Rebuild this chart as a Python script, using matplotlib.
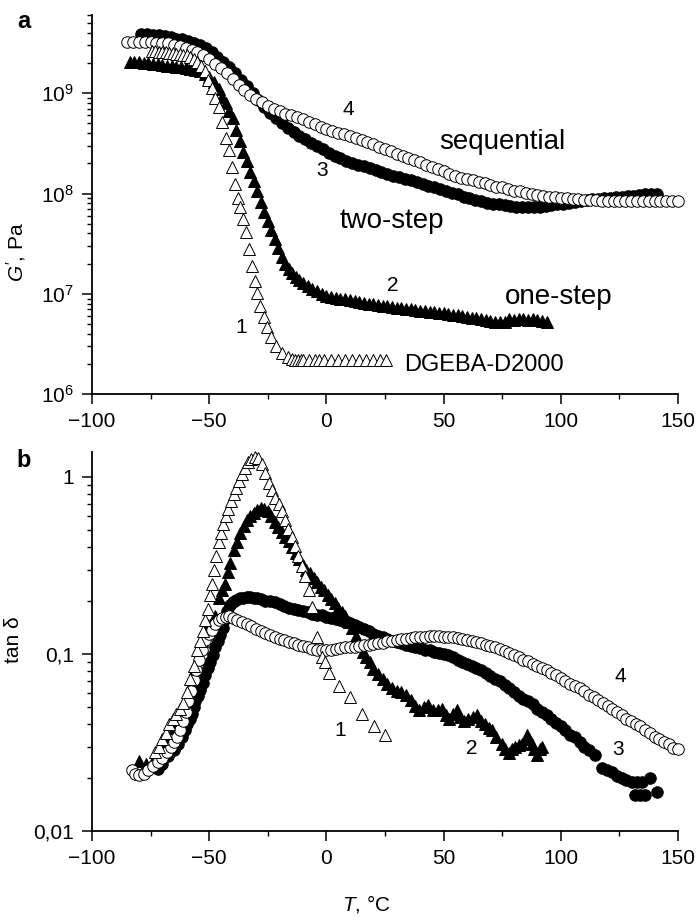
import matplotlib
matplotlib.use('Agg')
import matplotlib.pyplot as plt
from matplotlib.ticker import MultipleLocator, FixedLocator, FixedFormatter, LogLocator, NullFormatter

plt.rcParams['font.family'] = ['Liberation Sans', 'DejaVu Sans']
plt.rcParams['mathtext.fontset'] = 'custom'
plt.rcParams['mathtext.rm'] = 'Liberation Sans'
plt.rcParams['mathtext.it'] = 'Liberation Sans:italic'

# ---------------- (a) G', Pa ----------------
# 1: DGEBA-D2000 (open triangles)
T1_g = [-74.5, -73, -71.5, -70, -68.5, -67, -65.5, -64, -62.5, -61, -59.5, -58, -56.5, -55,
        -53.5, -52, -50.5, -49, -47.5, -46, -44.5, -43, -41.7, -40.3, -38.9, -37.8, -36.8,
        -35.4, -34.5, -33.2, -31.8, -30.5, -29.5, -28.2, -26.8, -25.4, -23.5, -21.3, -18.8,
        -16.5, -14.5, -13.2, -12, -11, -10, -7.5, -5, -3, -1, 2, 5, 8, 11, 14, 17, 20, 23, 25.5]
G1 = [2.6e9, 2.6e9, 2.58e9, 2.56e9, 2.54e9, 2.52e9, 2.5e9, 2.48e9, 2.45e9, 2.42e9, 2.38e9,
      2.3e9, 2.2e9, 2.05e9, 1.87e9, 1.65e9, 1.35e9, 1.13e9, 9.0e8, 7.3e8, 5.2e8, 3.6e8, 2.7e8,
      1.85e8, 1.25e8, 9.0e7, 7.3e7, 5.6e7, 4.1e7, 2.8e7, 1.9e7, 1.35e7, 1.02e7, 7.6e6, 5.9e6,
      4.7e6, 3.7e6, 3.05e6, 2.6e6, 2.35e6, 2.25e6, 2.22e6, 2.2e6, 2.2e6, 2.2e6, 2.2e6, 2.2e6,
      2.22e6, 2.2e6, 2.2e6, 2.22e6, 2.2e6, 2.2e6, 2.22e6, 2.22e6, 2.22e6, 2.22e6, 2.22e6]

# 2: one-step (filled triangles)
T2_g = [-84, -82, -80, -78, -76, -74, -72, -70, -68, -66, -64, -62, -60, -58, -56, -54, -52,
        -50, -48, -46, -44.5, -43, -41.5, -40, -38.5, -37, -35.5, -34, -32.5, -31, -29.5, -28,
        -26.5, -25, -23.5, -22, -20.5, -19, -17.5, -16, -14.5, -13, -11.5, -10, -8, -6, -4, -2,
        0, 2, 4, 6, 8, 10, 12, 14, 16, 18, 20, 22, 24, 26, 28, 30, 32, 34, 36, 38, 40, 42, 44,
        46, 48, 50, 52, 54, 56, 58, 60, 62, 64, 66, 68, 70, 72, 74, 76, 78, 80, 82, 84, 86, 88,
        90, 92, 94]
G2 = [2.05e9, 2.05e9, 2.03e9, 2.0e9, 1.98e9, 1.95e9, 1.93e9, 1.9e9, 1.88e9, 1.86e9, 1.83e9,
      1.8e9, 1.77e9, 1.74e9, 1.7e9, 1.65e9, 1.55e9, 1.45e9, 1.28e9, 1.1e9, 9.2e8, 7.9e8, 6.6e8,
      5.6e8, 4.3e8, 3.3e8, 2.6e8, 2.1e8, 1.65e8, 1.33e8, 1.05e8, 8.2e7, 6.6e7, 5.3e7, 4.3e7,
      3.5e7, 2.85e7, 2.35e7, 2.0e7, 1.78e7, 1.6e7, 1.47e7, 1.37e7, 1.27e7, 1.19e7, 1.12e7,
      1.06e7, 1.0e7, 9.6e6, 9.3e6, 9.1e6, 8.9e6, 8.8e6, 8.7e6, 8.5e6, 8.3e6, 8.2e6, 8.0e6,
      7.9e6, 7.7e6, 7.6e6, 7.5e6, 7.4e6, 7.3e6, 7.2e6, 7.1e6, 7.0e6, 6.9e6, 6.8e6, 6.7e6,
      6.65e6, 6.6e6, 6.5e6, 6.4e6, 6.3e6, 6.2e6, 6.1e6, 6.0e6, 5.9e6, 5.8e6, 5.7e6, 5.6e6,
      5.5e6, 5.4e6, 5.3e6, 5.2e6, 5.3e6, 5.6e6, 5.5e6, 5.6e6, 5.6e6, 5.5e6, 5.6e6, 5.5e6,
      5.4e6, 5.2e6]

# 3: two-step (filled circles)
T3_g = [-79, -76.5, -74, -71.5, -69, -66.5, -64, -61.5, -59, -56.5, -54, -51.5, -49, -46.5,
        -44, -41.5, -39, -36.5, -34, -31.5, -29, -26.5, -24, -21.5, -19, -16.5, -14, -11.5, -9,
        -6.5, -4, -1.5, 1, 3.5, 6, 8.5, 11, 13.5, 16, 18.5, 21, 23.5, 26, 28.5, 31, 33.5, 36,
        38.5, 41, 43.5, 46, 48.5, 51, 53.5, 56, 58.5, 61, 63.5, 66, 68.5, 71, 73.5, 76, 78.5,
        81, 83.5, 86, 88.5, 91, 93.5, 96, 98.5, 101, 103.5, 106, 108.5, 111, 113.5, 116, 118.5,
        121, 123.5, 126, 128.5, 131, 133.5, 136, 138.5, 141]
G3 = [3.9e9, 3.85e9, 3.8e9, 3.76e9, 3.67e9, 3.59e9, 3.5e9, 3.43e9, 3.31e9, 3.16e9, 3.02e9,
      2.82e9, 2.57e9, 2.29e9, 2.04e9, 1.8e9, 1.57e9, 1.36e9, 1.17e9, 1.0e9, 8.5e8, 7.2e8,
      6.3e8, 5.6e8, 5.0e8, 4.5e8, 4.1e8, 3.76e8, 3.47e8, 3.2e8, 2.95e8, 2.75e8, 2.54e8,
      2.37e8, 2.24e8, 2.11e8, 2.02e8, 1.93e8, 1.86e8, 1.78e8, 1.72e8, 1.64e8, 1.58e8, 1.51e8,
      1.46e8, 1.4e8, 1.35e8, 1.29e8, 1.24e8, 1.19e8, 1.15e8, 1.1e8, 1.05e8, 1.01e8, 9.8e7,
      9.3e7, 9.0e7, 8.7e7, 8.4e7, 8.1e7, 7.9e7, 7.8e7, 7.6e7, 7.5e7, 7.4e7, 7.3e7, 7.3e7,
      7.3e7, 7.4e7, 7.5e7, 7.6e7, 7.8e7, 7.9e7, 8.1e7, 8.3e7, 8.5e7, 8.7e7, 8.8e7, 8.9e7,
      9.0e7, 9.1e7, 9.2e7, 9.3e7, 9.4e7, 9.5e7, 9.7e7, 9.8e7, 9.9e7, 1.0e8]

# 4: sequential (open circles)
T4_g = [-85, -82.5, -80, -77.5, -75, -72.5, -70, -67.5, -65, -62.5, -60, -57.5, -55, -52.5,
        -50, -47.5, -45, -42.5, -40, -37.5, -35, -32.5, -30, -27.5, -25, -22.5, -20, -17.5,
        -15, -12.5, -10, -7.5, -5, -2.5, 0, 2.5, 5, 7.5, 10, 12.5, 15, 17.5, 20, 22.5, 25,
        27.5, 30, 32.5, 35, 37.5, 40, 42.5, 45, 47.5, 50, 52.5, 55, 57.5, 60, 62.5, 65, 67.5,
        70, 72.5, 75, 77.5, 80, 82.5, 85, 87.5, 90, 92.5, 95, 97.5, 100, 102.5, 105, 107.5,
        110, 112.5, 115, 117.5, 120, 122.5, 125, 127.5, 130, 132.5, 135, 137.5, 140, 142.5,
        145, 147.5, 150]
G4 = [3.24e9, 3.24e9, 3.24e9, 3.24e9, 3.2e9, 3.16e9, 3.16e9, 3.13e9, 3.05e9, 2.95e9, 2.82e9,
      2.69e9, 2.57e9, 2.4e9, 2.19e9, 1.97e9, 1.78e9, 1.58e9, 1.38e9, 1.2e9, 1.07e9, 9.5e8,
      8.8e8, 8.1e8, 7.5e8, 7.0e8, 6.6e8, 6.2e8, 6.0e8, 5.75e8, 5.5e8, 5.2e8, 4.9e8, 4.6e8,
      4.4e8, 4.2e8, 4.0e8, 3.9e8, 3.7e8, 3.55e8, 3.4e8, 3.25e8, 3.1e8, 2.9e8, 2.8e8, 2.65e8,
      2.5e8, 2.37e8, 2.26e8, 2.14e8, 2.04e8, 1.93e8, 1.84e8, 1.74e8, 1.66e8, 1.58e8, 1.51e8,
      1.44e8, 1.4e8, 1.35e8, 1.3e8, 1.26e8, 1.22e8, 1.17e8, 1.15e8, 1.11e8, 1.07e8, 1.05e8,
      1.01e8, 9.9e7, 9.7e7, 9.4e7, 9.3e7, 9.2e7, 9.1e7, 9.0e7, 8.9e7, 8.8e7, 8.7e7, 8.7e7,
      8.6e7, 8.5e7, 8.5e7, 8.5e7, 8.5e7, 8.5e7, 8.5e7, 8.5e7, 8.5e7, 8.5e7, 8.5e7, 8.5e7,
      8.5e7, 8.5e7, 8.5e7]

# ---------------- (b) tan delta ----------------
T1_t = [-73, -71.5, -70, -68.5, -67, -65.5, -64, -62.5, -61, -59.5, -58, -56.5, -55, -54,
        -52.8, -51.6, -50.5, -49.6, -48.8, -47.8, -46.9, -46, -45, -44, -43, -42, -40.8, -39.6,
        -38.4, -37.2, -36, -34.7, -33.4, -32, -30.5, -29, -27.5, -26, -24.6, -23.2, -21.8,
        -20.4, -19, -17.6, -16.2, -14.8, -13.4, -12, -10.6, -9.2, -7.6, -6.2, -3.8, -1.8, -0.5,
        0.9, 5.2, 10.2, 15.1, 20.1, 25.2]
D1 = [0.028, 0.030, 0.033, 0.036, 0.040, 0.043, 0.046, 0.049, 0.053, 0.061, 0.072, 0.085,
      0.105, 0.118, 0.135, 0.155, 0.18, 0.215, 0.25, 0.30, 0.36, 0.43, 0.48, 0.54, 0.60, 0.66,
      0.73, 0.80, 0.87, 0.95, 1.04, 1.13, 1.21, 1.27, 1.30, 1.28, 1.18, 1.05, 0.93, 0.84,
      0.76, 0.70, 0.64, 0.57, 0.51, 0.46, 0.41, 0.36, 0.315, 0.275, 0.23, 0.185, 0.125,
      0.096, 0.09, 0.078, 0.066, 0.057, 0.046, 0.039, 0.035]

T2_t = [-80, -77, -74, -71, -68, -65, -62, -59, -56, -53, -50.5, -48.8, -47.4, -46, -44.5,
        -43.1, -42, -41, -39.6, -38.2, -36.7, -35.3, -34, -32.5, -31, -29.5, -28, -26.5, -25,
        -23.5, -22, -20.5, -19, -17.5, -16, -14.5, -13, -11.5, -10, -8.5, -7, -5.5, -4, -2.5,
        -1, 0.5, 2, 3.5, 5, 6.5, 8, 9.5, 11, 12.5, 14, 15.5, 17, 18.5, 20, 22, 24, 26, 28, 30,
        32, 34, 36, 38, 39.5, 41.5, 43.5, 45.5, 47.5, 49.5, 51, 52.5, 54, 55.6, 57, 58.5, 60.5,
        62.5, 64.2, 66, 67.8, 69.2, 70.6, 72.5, 74.9, 76.3, 77.7, 79, 80.5, 82, 83.4, 85.5,
        86.5, 87.6, 88.7, 89.8, 91, 91.9]
D2 = [0.025, 0.024, 0.025, 0.028, 0.032, 0.038, 0.044, 0.058, 0.082, 0.118, 0.145, 0.152,
      0.163, 0.207, 0.23, 0.25, 0.29, 0.325, 0.387, 0.43, 0.48, 0.53, 0.57, 0.60, 0.63, 0.65,
      0.665, 0.66, 0.64, 0.60, 0.56, 0.52, 0.49, 0.46, 0.435, 0.40, 0.37, 0.345, 0.32, 0.30,
      0.285, 0.27, 0.255, 0.24, 0.23, 0.215, 0.205, 0.195, 0.183, 0.172, 0.163, 0.152, 0.14,
      0.127, 0.113, 0.103, 0.096, 0.09, 0.082, 0.077, 0.072, 0.068, 0.064, 0.062, 0.061,
      0.059, 0.055, 0.051, 0.048, 0.05, 0.0515, 0.048, 0.0485, 0.049, 0.045, 0.043, 0.046,
      0.048, 0.044, 0.042, 0.043, 0.044, 0.045, 0.042, 0.040, 0.038, 0.037, 0.034, 0.031,
      0.029, 0.0275, 0.029, 0.030, 0.0305, 0.031, 0.035, 0.033, 0.031, 0.029, 0.027, 0.029,
      0.030]

T3_t = [-72, -70, -67.5, -65.2, -63.3, -61.6, -60.5, -59.5, -58.4, -57.4, -56.6, -55.9,
        -54.8, -53.8, -52.7, -51.6, -50.5, -49.5, -48.5, -47.4, -46.3, -45.2, -44.3, -43.5,
        -42.5, -41.3, -40, -38.5, -37, -35.5, -34, -32.5, -31, -29.5, -28, -26, -24, -22, -20,
        -18, -16, -14, -12, -10, -8, -6, -4, -2, 0, 2, 4, 6, 8, 10, 12, 14, 16, 18, 20, 22, 24,
        26, 28, 30, 32, 34, 36, 38, 40, 42, 44, 46, 48, 50, 52, 54, 56, 58, 60, 62, 64, 66, 68,
        70, 72, 74, 76, 78, 80, 82, 84, 86, 88, 90, 92, 94, 96, 98, 100, 102, 104, 106, 108,
        110, 112, 114.5, 117.5, 119.5, 121.8, 124, 126, 128, 130.3, 132.5, 134.5, 138.1,
        131.7, 134, 136, 140.9]
D3 = [0.0225, 0.024, 0.0265, 0.0287, 0.031, 0.034, 0.037, 0.040, 0.043, 0.046, 0.050, 0.054,
      0.058, 0.063, 0.069, 0.076, 0.083, 0.090, 0.099, 0.110, 0.119, 0.128, 0.14, 0.155,
      0.175, 0.188, 0.196, 0.202, 0.206, 0.208, 0.21, 0.21, 0.208, 0.206, 0.204, 0.200,
      0.199, 0.196, 0.192, 0.186, 0.183, 0.180, 0.177, 0.174, 0.172, 0.169, 0.167, 0.165,
      0.162, 0.160, 0.157, 0.155, 0.152, 0.149, 0.146, 0.142, 0.138, 0.134, 0.130, 0.127,
      0.124, 0.121, 0.119, 0.117, 0.115, 0.113, 0.111, 0.110, 0.108, 0.106, 0.105, 0.103,
      0.101, 0.0995, 0.0985, 0.096, 0.093, 0.090, 0.088, 0.085, 0.083, 0.081, 0.078, 0.075,
      0.072, 0.070, 0.067, 0.064, 0.061, 0.058, 0.056, 0.054, 0.052, 0.049, 0.047, 0.045,
      0.043, 0.041, 0.039, 0.037, 0.035, 0.034, 0.032, 0.030, 0.0285, 0.027, 0.0226, 0.022,
      0.0216, 0.0205, 0.0199, 0.0195, 0.019, 0.019, 0.019, 0.0199, 0.016, 0.016, 0.016,
      0.0167]

T4_t = [-82.9, -81.5, -80, -78, -76, -74, -72, -70, -68, -66.5, -65, -63.8, -62.5, -61, -60,
        -59, -57.8, -56.6, -55.5, -54.5, -53, -51.6, -50.2, -48.8, -47.4, -46, -44.5, -43,
        -41.7, -40, -38, -36, -34, -32, -30, -28, -26, -24, -22, -20, -18, -16, -14, -12, -10,
        -8, -6, -4, -2, 0, 2, 4, 6, 8, 10, 12, 14, 16, 18, 20, 22, 24, 26, 28, 30, 32, 34, 36,
        38, 40, 42, 44, 46, 48, 50, 52, 54, 56, 58, 60, 62, 64, 66, 68, 70, 72, 74, 76, 78, 80,
        82, 84, 86, 88, 90, 92, 94, 96, 98, 100, 102, 104, 106, 108, 110, 112, 114, 116, 118,
        120, 122, 124, 126, 128, 130, 132, 134, 136, 138, 140, 142, 144, 146, 148, 150]
D4 = [0.0221, 0.021, 0.0207, 0.021, 0.022, 0.0233, 0.0245, 0.026, 0.028, 0.030, 0.032,
      0.034, 0.037, 0.042, 0.047, 0.054, 0.062, 0.071, 0.081, 0.092, 0.105, 0.12, 0.13,
      0.137, 0.147, 0.156, 0.16, 0.162, 0.163, 0.16, 0.156, 0.152, 0.148, 0.144, 0.139,
      0.135, 0.131, 0.128, 0.125, 0.122, 0.12, 0.117, 0.115, 0.113, 0.111, 0.109, 0.107,
      0.106, 0.105, 0.105, 0.106, 0.107, 0.108, 0.109, 0.110, 0.110, 0.111, 0.112, 0.113,
      0.114, 0.115, 0.116, 0.118, 0.119, 0.120, 0.121, 0.122, 0.123, 0.124, 0.125, 0.125,
      0.126, 0.126, 0.126, 0.125, 0.125, 0.124, 0.123, 0.122, 0.120, 0.119, 0.117, 0.115,
      0.113, 0.111, 0.109, 0.107, 0.104, 0.101, 0.0986, 0.096, 0.093, 0.091, 0.088, 0.086,
      0.083, 0.081, 0.078, 0.076, 0.073, 0.070, 0.068, 0.066, 0.064, 0.062, 0.059, 0.057,
      0.055, 0.053, 0.051, 0.049, 0.047, 0.045, 0.043, 0.042, 0.040, 0.039, 0.037, 0.036,
      0.034, 0.033, 0.032, 0.031, 0.0295, 0.029]

tan_ticks = [0.01, 0.1, 1]
tan_tick_labels = ['0,01', '0,1', '1']

fig = plt.figure(figsize=(6.97, 9.22), dpi=100)
ax1 = fig.add_axes([92 / 697, 1 - 394.3 / 922, 586 / 697, 379.3 / 922])
ax2 = fig.add_axes([92 / 697, 1 - 831 / 922, 586 / 697, 379 / 922])

ms_tri = 9
ms_circ = 8.3
mew = 0.7


def draw(ax, t1, y1, t2, y2, t3, y3, t4, y4):
    # filled first, open symbols on top
    ax.plot(t3, y3, 'o', ms=ms_circ, mfc='black', mec='black', mew=mew, ls='none', clip_on=False)
    ax.plot(t2, y2, '^', ms=ms_tri, mfc='black', mec='black', mew=mew, ls='none', clip_on=False)
    ax.plot(t4, y4, 'o', ms=ms_circ, mfc='white', mec='black', mew=mew, ls='none', clip_on=False)
    ax.plot(t1, y1, '^', ms=ms_tri, mfc='white', mec='black', mew=mew, ls='none', clip_on=False)


def style(ax):
    ax.set_yscale('log')
    ax.set_xlim(-100, 150)
    ax.xaxis.set_major_locator(MultipleLocator(50))
    ax.xaxis.set_minor_locator(MultipleLocator(25))
    for s in ['top', 'right']:
        ax.spines[s].set_visible(False)
    for s in ['left', 'bottom']:
        ax.spines[s].set_linewidth(1.3)
    ax.tick_params(which='major', direction='out', length=7, width=1.1, labelsize=15, pad=6)
    ax.tick_params(which='minor', direction='out', length=3.8, width=1.0)


draw(ax1, T1_g, G1, T2_g, G2, T3_g, G3, T4_g, G4)
style(ax1)
ax1.set_ylim(1e6, 6e9)
ax1.yaxis.set_major_locator(LogLocator(base=10, numticks=10))
ax1.yaxis.set_minor_locator(LogLocator(base=10, subs=range(2, 10), numticks=20))
ax1.yaxis.set_minor_formatter(NullFormatter())

draw(ax2, T1_t, D1, T2_t, D2, T3_t, D3, T4_t, D4)
style(ax2)
ax2.set_ylim(0.01, 1.384)
ax2.yaxis.set_major_locator(FixedLocator(tan_ticks))
ax2.yaxis.set_major_formatter(FixedFormatter(tan_tick_labels))
ax2.yaxis.set_minor_locator(LogLocator(base=10, subs=range(2, 10), numticks=20))
ax2.yaxis.set_minor_formatter(NullFormatter())

# annotations, panel (a)
ax1.text(75, 3.26e8, 'sequential', fontsize=20, ha='center', va='center')
ax1.text(28, 5.3e7, 'two-step', fontsize=20, ha='center', va='center')
ax1.text(99, 9.3e6, 'one-step', fontsize=20, ha='center', va='center')
ax1.text(33, 1.96e6, 'DGEBA-D2000', fontsize=17, ha='left', va='center')
ax1.text(-36.3, 4.6e6, '1', fontsize=15, ha='center', va='center')
ax1.text(28.5, 1.2e7, '2', fontsize=15, ha='center', va='center')
ax1.text(-1.8, 1.71e8, '3', fontsize=15, ha='center', va='center')
ax1.text(9.4, 6.9e8, '4', fontsize=15, ha='center', va='center')

# annotations, panel (b)
ax2.text(5.9, 0.0372, '1', fontsize=15, ha='center', va='center')
ax2.text(62, 0.0293, '2', fontsize=15, ha='center', va='center')
ax2.text(124.6, 0.0287, '3', fontsize=15, ha='center', va='center')
ax2.text(125.3, 0.0745, '4', fontsize=15, ha='center', va='center')

fig.text(24 / 697, 1 - 21 / 922, 'a', fontsize=17, fontweight='bold', ha='center', va='center')
fig.text(24 / 697, 1 - 460 / 922, 'b', fontsize=17, fontweight='bold', ha='center', va='center')
fig.text(16 / 697, 1 - 252 / 922, "$G'$, Pa", fontsize=15, rotation=90, ha='center', va='center')
fig.text(14 / 697, 1 - 640 / 922, 'tan δ', fontsize=15, rotation=90, ha='center', va='center')
fig.text(366 / 697, 1 - 904 / 922, '$T$, °C', fontsize=15, ha='center', va='center')

fig.savefig('out.png', dpi=100)
